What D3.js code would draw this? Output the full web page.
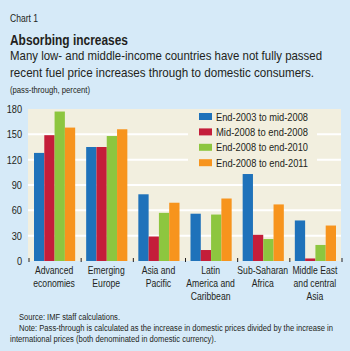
<!DOCTYPE html>
<html>
<head>
<meta charset="utf-8">
<script src="https://cdn.jsdelivr.net/npm/d3@7"></script>
<style>
  body { margin: 0; background: #d6eaf8; }
  text { font-family: "Liberation Sans", Arial, sans-serif; fill: #231f20; }
</style>
</head>
<body>
<div id="chart"></div>
<script>
// Chart data
const regions = [
    ["Advanced", "economies"],
    ["Emerging", "Europe"],
    ["Asia and", "Pacific"],
    ["Latin", "America and", "Caribbean"],
    ["Sub-Saharan", "Africa"],
    ["Middle East", "and central", "Asia"]
];
const periods = ["End-2003 to mid-2008", "Mid-2008 to end-2008", "End-2008 to end-2010", "End-2008 to end-2011"];
const colors = ["#1f72ba", "#c41e3a", "#8dc63f", "#f7941d"];
const endMid2003to2008 = [128, 135, 79, 56, 103, 48];
const mid2008toEnd2008 = [149, 135, 29, 13, 31, 3];
const end2008toEnd2010 = [177, 148, 57, 55, 26, 19];
const end2008toEnd2011 = [158, 156, 69, 74, 67, 42];
const series = [endMid2003to2008, mid2008toEnd2008, end2008toEnd2010, end2008toEnd2011];
const yTicks = [0, 30, 60, 90, 120, 150, 180];

const width = 350, height = 351;
const margin = { top: 109, right: 9, bottom: 90, left: 28 };

// squeeze text horizontally to look like the condensed original font
function cond(sel, factor) {
    sel.each(function() {
        const w = this.getComputedTextLength();
        d3.select(this).attr("textLength", w * factor).attr("lengthAdjust", "spacingAndGlyphs");
    });
    return sel;
}
function fit(sel, w) {
    return sel.attr("textLength", w).attr("lengthAdjust", "spacingAndGlyphs");
}

const svg = d3.select("#chart").append("svg")
    .attr("width", width)
    .attr("height", height);

svg.append("rect")
    .attr("width", width)
    .attr("height", height)
    .attr("fill", "#d6eaf8");

// Header texts
fit(svg.append("text").attr("x", 10).attr("y", 22)
    .style("font-size", "10.5px").text("Chart 1"), 28);
fit(svg.append("text").attr("x", 10).attr("y", 45)
    .style("font-size", "14.5px").style("font-weight", "bold").text("Absorbing increases"), 118);
fit(svg.append("text").attr("x", 10).attr("y", 60)
    .style("font-size", "13px").text("Many low- and middle-income countries have not fully passed"), 312);
fit(svg.append("text").attr("x", 10).attr("y", 77)
    .style("font-size", "13px").text("recent fuel price increases through to domestic consumers."), 304);
fit(svg.append("text").attr("x", 10).attr("y", 93)
    .style("font-size", "9.5px").text("(pass-through, percent)"), 80);

const x0 = d3.scaleBand()
    .domain(d3.range(regions.length))
    .range([margin.left, width - margin.right]);

const x1 = d3.scaleBand()
    .domain(d3.range(periods.length))
    .range([6, x0.bandwidth() - 5]);

const y = d3.scaleLinear()
    .domain([0, 180])
    .range([height - margin.bottom, margin.top]);

// plot background
svg.append("rect")
    .attr("x", margin.left)
    .attr("y", margin.top)
    .attr("width", width - margin.right - margin.left)
    .attr("height", y(0) - margin.top)
    .attr("fill", "#f2efdf");

// gridlines
svg.append("g")
    .selectAll("line")
    .data(yTicks.filter(d => d > 0 && d < 180))
    .join("line")
    .attr("x1", margin.left)
    .attr("x2", width - margin.right)
    .attr("y1", d => y(d))
    .attr("y2", d => y(d))
    .attr("stroke", "#ffffff")
    .attr("stroke-width", 2);

// legend box covers gridlines
const legend = svg.append("g").attr("transform", "translate(199,113)");
legend.append("rect")
    .attr("x", -11).attr("y", -4)
    .attr("width", 129).attr("height", 60)
    .attr("fill", "#f2efdf");
periods.forEach((p, i) => {
    const row = legend.append("g").attr("transform", `translate(0,${i * 15.4})`);
    row.append("rect").attr("width", 13).attr("height", 7).attr("fill", colors[i]);
    fit(row.append("text").attr("x", 17).attr("y", 7.5)
        .style("font-size", "11.5px").text(p), 92);
});

// bars
series.forEach((vals, j) => {
    svg.append("g")
        .selectAll("rect")
        .data(vals)
        .join("rect")
        .attr("x", (d, i) => x0(i) + x1(j))
        .attr("width", x1.bandwidth())
        .attr("y", d => y(d))
        .attr("height", d => y(0) - y(d))
        .attr("fill", colors[j]);
});

// y axis labels
cond(svg.append("g")
    .selectAll("text")
    .data(yTicks)
    .join("text")
    .attr("x", 22)
    .attr("y", d => y(d) + 4)
    .attr("text-anchor", "end")
    .style("font-size", "11.5px")
    .text(d => d), 0.8);

// category boundary ticks
const bounds = d3.range(regions.length + 1).map(i => i < regions.length ? x0(i) : x0.range()[1]);
svg.append("g")
    .selectAll("line")
    .data(bounds)
    .join("line")
    .attr("x1", d => d + 1)
    .attr("x2", d => d + 1)
    .attr("y1", y(0) - 3)
    .attr("y2", y(0) + 1)
    .attr("stroke", "#231f20")
    .attr("stroke-width", 1);

// x labels
regions.forEach((lines, i) => {
    lines.forEach((l, k) => {
        cond(svg.append("text")
            .attr("x", x0(i) + x0.bandwidth() / 2)
            .attr("y", y(0) + 13 + k * 13)
            .attr("text-anchor", "middle")
            .style("font-size", "11.5px")
            .text(l), 0.75);
    });
});

// footer
fit(svg.append("text").attr("x", 19).attr("y", 320)
    .style("font-size", "8.5px").text("Source: IMF staff calculations."), 101);
fit(svg.append("text").attr("x", 19).attr("y", 331)
    .style("font-size", "8.5px")
    .text("Note: Pass-through is calculated as the increase in domestic prices divided by the increase in"), 314);
fit(svg.append("text").attr("x", 10).attr("y", 342)
    .style("font-size", "8.5px")
    .text("international prices (both denominated in domestic currency)."), 206);
</script>
</body>
</html>
